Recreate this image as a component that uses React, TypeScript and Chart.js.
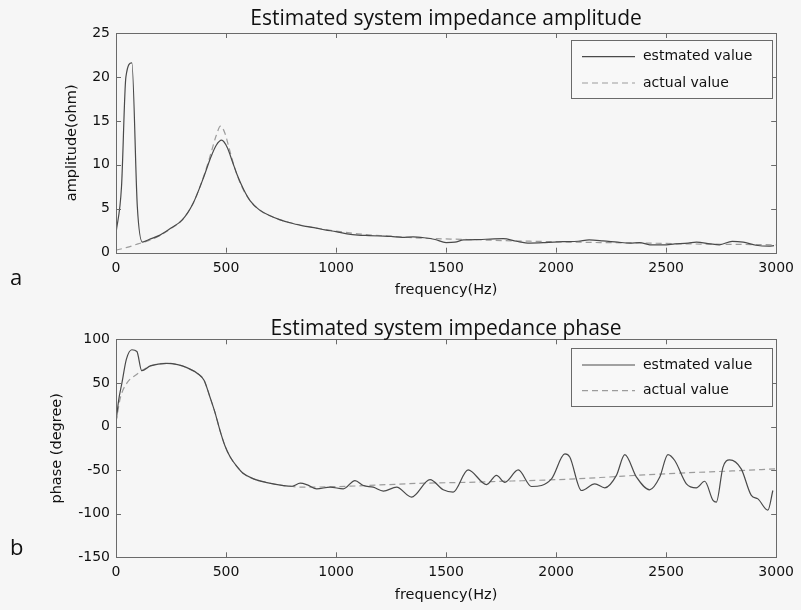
import React, { useEffect, useRef } from "react";
import { Chart, registerables } from "chart.js";

Chart.register(...registerables);

// ---------- data ----------
const seriesLabels = ["estmated value", "actual value"];

const ampEstFreq = [0, 25, 45, 72, 97, 120, 150, 200, 250, 300, 350, 400, 430, 455, 480, 505, 530, 550, 580, 610, 650, 700, 750, 800, 850, 900, 950, 1000, 1050, 1100, 1150, 1200, 1250, 1300, 1350, 1400, 1450, 1500, 1540, 1580, 1650, 1700, 1760, 1820, 1880, 1950, 2030, 2100, 2150, 2213, 2280, 2335, 2380, 2426, 2486, 2540, 2600, 2638, 2700, 2742, 2800, 2850, 2908, 2967, 2990];
const ampEstVal = [2.2, 7.5, 20.0, 21.6, 5.2, 1.2, 1.5, 2.0, 2.8, 3.7, 5.6, 8.7, 10.8, 12.2, 12.8, 12.0, 10.3, 8.9, 7.2, 5.9, 4.9, 4.2, 3.7, 3.35, 3.05, 2.85, 2.6, 2.4, 2.15, 2.0, 1.95, 1.9, 1.85, 1.75, 1.8, 1.7, 1.5, 1.15, 1.2, 1.45, 1.5, 1.55, 1.6, 1.3, 1.1, 1.15, 1.25, 1.3, 1.45, 1.35, 1.2, 1.1, 1.15, 0.9, 0.9, 1.0, 1.1, 1.2, 1.0, 0.9, 1.3, 1.2, 0.85, 0.75, 0.8];

const ampActFreq = [0, 50, 100, 150, 200, 250, 300, 350, 400, 430, 455, 475, 495, 515, 540, 570, 610, 650, 700, 750, 800, 900, 1000, 1100, 1200, 1400, 1600, 1800, 2000, 2200, 2400, 2600, 2800, 3000];
const ampActVal = [0.3, 0.6, 1.0, 1.4, 1.95, 2.75, 3.7, 5.6, 8.8, 11.2, 13.3, 14.4, 13.6, 11.8, 9.6, 7.6, 5.9, 4.9, 4.2, 3.7, 3.35, 2.85, 2.45, 2.15, 1.95, 1.65, 1.5, 1.35, 1.25, 1.15, 1.1, 1.0, 0.95, 0.9];

const phEstFreq = [0, 12, 27, 47, 72, 95, 117, 156, 231, 280, 322, 375, 400, 428, 450, 473, 495, 519, 550, 579, 625, 680, 761, 800, 837, 870, 912, 973, 1033, 1086, 1124, 1169, 1215, 1275, 1343, 1427, 1487, 1532, 1600, 1684, 1729, 1767, 1828, 1888, 1979, 2040, 2062, 2115, 2176, 2221, 2274, 2312, 2365, 2425, 2471, 2508, 2539, 2592, 2637, 2675, 2713, 2728, 2758, 2788, 2841, 2887, 2917, 2962, 2985];
const phEstVal = [5, 30, 50, 77, 88, 86, 64, 69.5, 72.5, 71, 67.5, 60, 53, 33, 16, -5, -22, -35, -46, -54, -60, -64, -67.7, -68.5, -65, -67, -71.5, -69.6, -71.5, -62, -67.7, -69.6, -74, -69.6, -81, -61, -72.6, -75.3, -49.8, -66.6, -56, -64, -49.8, -68.8, -60, -31.5, -35, -73.4, -65.7, -70.3, -56, -32.3, -58, -72.6, -58, -32.3, -39, -65.7, -70.3, -62.8, -84.8, -86.8, -46.8, -38.3, -48.6, -79, -83, -96, -73.4];

const phActFreq = [0, 20, 50, 95, 156, 231, 280, 322, 375, 400, 428, 450, 473, 495, 519, 550, 579, 625, 680, 761, 850, 1000, 1200, 1400, 1600, 1800, 2000, 2200, 2400, 2600, 2800, 3000];
const phActVal = [5, 33, 50, 60, 69.5, 72.5, 71, 67.5, 60, 53, 33, 16, -5, -22, -35, -46, -54, -60, -64, -67.7, -69.5, -69, -67, -65, -64, -62.5, -61, -58.5, -55.5, -53, -51, -48.5];

const freqTicks = { min: 0, max: 3000, step: 500 };
const ampTicks = { min: 0, max: 25, step: 5 };
const phTicks = { min: -150, max: 100, step: 50 };

const titles = ["Estimated system impedance amplitude", "Estimated system impedance phase"];
const yTitles = ["amplitude(ohm)", "phase (degree)"];
const xTitle = "frequency(Hz)";
const panelLetters = ["a", "b"];

// ---------- helpers ----------
const toPoints = (xs: number[], ys: number[]) => xs.map((x, i) => ({ x, y: ys[i] }));

const TEXT = "#111111";
const FRAME = "#6a6a6a";
const EST_COLOR = "#4a4a4a";
const ACT_COLOR = "#9c9c9c";
const ACT_DASH = [6, 4];

const framePlugin = {
  id: "framePlugin",
  afterDraw(chart: any, _args: any, o: any) {
    const { ctx, chartArea } = chart;
    const { left, top, right, bottom } = chartArea;
    ctx.save();
    // frame
    ctx.strokeStyle = FRAME;
    ctx.lineWidth = 1;
    ctx.setLineDash([]);
    ctx.strokeRect(Math.round(left) + 0.5, Math.round(top) + 0.5, Math.round(right - left), Math.round(bottom - top));
    // inner ticks
    const xs = chart.scales.x;
    const ys = chart.scales.y;
    const tl = 5;
    ctx.beginPath();
    xs.ticks.forEach((t: any) => {
      const px = Math.round(xs.getPixelForValue(t.value)) + 0.5;
      ctx.moveTo(px, bottom);
      ctx.lineTo(px, bottom - tl);
      ctx.moveTo(px, top);
      ctx.lineTo(px, top + tl);
    });
    ys.ticks.forEach((t: any) => {
      const py = Math.round(ys.getPixelForValue(t.value)) + 0.5;
      ctx.moveTo(left, py);
      ctx.lineTo(left + tl, py);
      ctx.moveTo(right, py);
      ctx.lineTo(right - tl, py);
    });
    ctx.stroke();

    ctx.fillStyle = TEXT;
    // title
    ctx.font = "21px 'Open Sans'";
    ctx.textAlign = "center";
    ctx.textBaseline = "alphabetic";
    ctx.fillText(o.title, (left + right) / 2, o.titleY);
    // panel letter
    ctx.font = "22px 'Open Sans'";
    ctx.textAlign = "left";
    ctx.fillText(o.letter, 10, o.letterY);
    // axis titles
    ctx.font = "14.5px 'DejaVu Sans'";
    ctx.textAlign = "center";
    ctx.textBaseline = "middle";
    ctx.fillText(xTitle, (left + right) / 2, o.xTitleY);
    ctx.save();
    ctx.translate(o.yTitleX, (top + bottom) / 2);
    ctx.rotate(-Math.PI / 2);
    ctx.fillText(o.yTitle, 0, 0);
    ctx.restore();

    // legend
    const L = o.legend;
    ctx.fillStyle = "#f8f8f8";
    ctx.fillRect(L.x, L.y, L.w, L.h);
    ctx.strokeStyle = FRAME;
    ctx.lineWidth = 1;
    ctx.strokeRect(L.x + 0.5, L.y + 0.5, L.w, L.h);
    const ds = chart.data.datasets;
    ds.forEach((d: any, i: number) => {
      const ry = L.rows[i];
      ctx.beginPath();
      ctx.strokeStyle = d.borderColor;
      ctx.lineWidth = d.borderWidth;
      ctx.setLineDash(d.borderDash || []);
      ctx.moveTo(582, ry);
      ctx.lineTo(635, ry);
      ctx.stroke();
      ctx.setLineDash([]);
      ctx.fillStyle = TEXT;
      ctx.font = "14px 'DejaVu Sans'";
      ctx.textAlign = "left";
      ctx.textBaseline = "middle";
      ctx.fillText(d.label, 643, ry);
    });
    ctx.restore();
  },
};

function makeConfig(
  est: { x: number; y: number }[],
  act: { x: number; y: number }[],
  yt: { min: number; max: number; step: number },
  padTop: number,
  xAxisH: number,
  pluginOpts: any
): any {
  const tickFont = { family: "DejaVu Sans", size: 14 };
  const plain = (v: any) => String(v);
  return {
    type: "line",
    data: {
      datasets: [
        {
          label: seriesLabels[0],
          data: est,
          borderColor: EST_COLOR,
          borderWidth: 1.2,
          pointRadius: 0,
          cubicInterpolationMode: "monotone",
          fill: false,
        },
        {
          label: seriesLabels[1],
          data: act,
          borderColor: ACT_COLOR,
          borderWidth: 1.2,
          borderDash: ACT_DASH,
          pointRadius: 0,
          cubicInterpolationMode: "monotone",
          fill: false,
        },
      ],
    },
    options: {
      responsive: false,
      animation: false,
      devicePixelRatio: 1,
      layout: { padding: { top: padTop, right: 22, left: 0, bottom: 0 } },
      plugins: {
        legend: { display: false },
        title: { display: false },
        tooltip: { enabled: false },
        framePlugin: pluginOpts,
      },
      scales: {
        x: {
          type: "linear",
          min: freqTicks.min,
          max: freqTicks.max,
          grid: { display: false, drawTicks: false },
          border: { display: false },
          ticks: { stepSize: freqTicks.step, font: tickFont, color: TEXT, padding: 7, maxRotation: 0, callback: plain },
          afterFit: (s: any) => {
            s.height = xAxisH;
          },
        },
        y: {
          type: "linear",
          min: yt.min,
          max: yt.max,
          grid: { display: false, drawTicks: false },
          border: { display: false },
          ticks: { stepSize: yt.step, font: tickFont, color: TEXT, padding: 6, callback: plain },
          afterFit: (s: any) => {
            s.width = 116;
          },
        },
      },
    },
    plugins: [framePlugin],
  };
}

export default function App() {
  const ref1 = useRef<HTMLCanvasElement | null>(null);
  const ref2 = useRef<HTMLCanvasElement | null>(null);

  useEffect(() => {
    const c1 = new Chart(
      ref1.current as HTMLCanvasElement,
      makeConfig(toPoints(ampEstFreq, ampEstVal), toPoints(ampActFreq, ampActVal), ampTicks, 33, 52.3, {
        title: titles[0],
        titleY: 25,
        letter: panelLetters[0],
        letterY: 285,
        yTitle: yTitles[0],
        yTitleX: 72,
        xTitleY: 290,
        legend: { x: 571, y: 40, w: 201, h: 58, rows: [56.7, 83] },
      })
    );
    const c2 = new Chart(
      ref2.current as HTMLCanvasElement,
      makeConfig(toPoints(phEstFreq, phEstVal), toPoints(phActFreq, phActVal), phTicks, 34.3, 52.7, {
        title: titles[1],
        titleY: 30,
        letter: panelLetters[1],
        letterY: 250,
        yTitle: yTitles[1],
        yTitleX: 57,
        xTitleY: 290,
        legend: { x: 571, y: 43, w: 201, h: 58, rows: [60, 85.7] },
      })
    );
    return () => {
      c1.destroy();
      c2.destroy();
    };
  }, []);

  return (
    <div style={{ position: "absolute", left: 0, top: 0, width: 801, height: 610, background: "#f6f6f6", overflow: "hidden" }}>
      <canvas ref={ref1} width={801} height={305} style={{ position: "absolute", left: 0, top: 0, display: "block" }} />
      <canvas ref={ref2} width={801} height={305} style={{ position: "absolute", left: 0, top: 305, display: "block" }} />
    </div>
  );
}
